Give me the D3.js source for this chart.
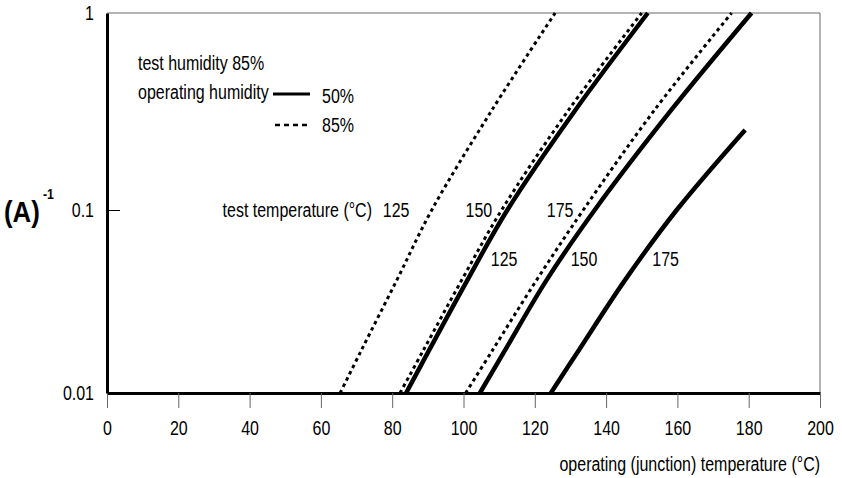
<!DOCTYPE html>
<html><head><meta charset="utf-8">
<script src="https://cdn.jsdelivr.net/npm/d3@7"></script>
<style>
body{margin:0;background:#fff}
text{fill:#000}
</style>
</head><body>
<svg id="c" width="842" height="478"></svg>
<script>
// ---- data ----
const xTicks = [0, 20, 40, 60, 80, 100, 120, 140, 160, 180, 200];
const yTicks = [0.01, 0.1, 1];
const yTickLabels = ["0.01", "0.1", "1"];
const testTemps = [125, 150, 175];
const opHumidity = ["50%", "85%"];

// A^-1 levels at which curves were read
const levels = [0.01, 0.0172, 0.0414, 0.1, 0.322, 1];
// operating humidity 85% (dashed) - operating temperature at each level
const dashed125 = [65.4, 71.4, 81.3, 91.1, 108.0, 125.7];
const dashed150 = [82.2, 88.8, 99.5, 110.7, 129.5, 150.0];
const dashed175 = [100.6, 108.2, 120.5, 133.6, 153.6, 175.2];
// operating humidity 50% (solid)
const solid125 = [83.9, 90.4, 101.1, 112.3, 131.4, 151.7];
const solid150 = [104.6, 111.7, 123.3, 136.8, 158.3, 180.8];
const solid175 = [124.5, 132.4, 145.3, 159.8, 179.0];
const solid175Levels = [0.01, 0.0172, 0.0414, 0.1, 0.255];

// ---- font: Arial metrics, condensed to look like Helvetica Narrow ----
const svg = d3.select("#c");
const FONT = "'Liberation Sans',Arial,sans-serif", FS = 19.5;
function narrowBy(s) {
  return sel => sel.each(function () {
    const el = d3.select(this);
    const x0 = +el.attr("x") || 0, y0 = +el.attr("y") || 0;
    el.attr("x", 0).attr("y", 0).attr("transform", `translate(${x0},${y0}) scale(${s},1)`);
  });
}
const narrow = narrowBy(0.82);
const txt = (sel) => sel.attr("font-family", FONT).attr("font-size", FS);

// ---- layout ----
const x = d3.scaleLinear().domain([0, 200]).range([107, 820]);
const y = d3.scaleLog().domain([0.01, 0.1, 1]).range([393, 210, 13]);

// frame (top/right thin)
svg.append("path")
  .attr("d", `M${x(0)},${y(1)}H${x(200)}V${y(0.01)}`)
  .attr("fill", "none").attr("stroke", "#666").attr("stroke-width", 1);

// x axis
const gx = svg.append("g").attr("transform", `translate(0,${y(0.01)})`)
  .call(d3.axisBottom(x).tickValues(xTicks).tickSizeInner(15).tickSizeOuter(0).tickPadding(13));
gx.select(".domain").attr("stroke", "#000").attr("stroke-width", 3);
gx.selectAll(".tick line").attr("stroke", "#666").attr("stroke-width", 1);
gx.selectAll(".tick text").call(txt).call(narrow);

// y axis
const gy = svg.append("g").attr("transform", `translate(${x(0)},0)`)
  .call(d3.axisLeft(y).tickValues(yTicks).tickFormat((d, i) => yTickLabels[i]).tickSizeInner(0).tickSizeOuter(0).tickPadding(13));
gy.select(".domain").attr("stroke", "#000").attr("stroke-width", 3);
gy.selectAll(".tick text").call(txt).call(narrow);
gy.selectAll(".tick").filter(d => d === 0.1).append("line")
  .attr("x1", 0).attr("x2", 13).attr("stroke", "#000").attr("stroke-width", 1);

// y label (A)^-1
svg.append("text").attr("x", 4).attr("y", 222)
  .attr("font-family", FONT).attr("font-size", 30).attr("font-weight", "bold")
  .text("(A)").call(narrowBy(0.86));
svg.append("text").attr("x", 43).attr("y", 199)
  .attr("font-family", FONT).attr("font-size", 15).attr("font-weight", "bold")
  .text("-1").call(narrow);

// x title
svg.append("text").attr("x", 820).attr("y", 471).attr("text-anchor", "end")
  .call(txt).text("operating (junction) temperature (°C)").call(narrow);

// curves
const line = d3.line().x(d => x(d[0])).y(d => y(d[1])).curve(d3.curveCatmullRom.alpha(0.5));
const series = [
  {t: dashed125, v: levels, dash: true},
  {t: dashed150, v: levels, dash: true},
  {t: dashed175, v: levels, dash: true},
  {t: solid125, v: levels, dash: false},
  {t: solid150, v: levels, dash: false},
  {t: solid175, v: solid175Levels, dash: false}
];
svg.append("g").selectAll("path").data(series).join("path")
  .attr("d", s => line(s.t.map((t, i) => [t, s.v[i]])))
  .attr("fill", "none").attr("stroke", "#000")
  .attr("stroke-width", s => s.dash ? 3 : 4.5)
  .attr("stroke-dasharray", s => s.dash ? "3.5,3.5" : null);

// curve labels (test temperature)
const dashedLabelT = [81.1, 104.3, 127.1];
const solidLabelT = [111.4, 133.8, 156.7];
svg.append("g").selectAll("text").data(testTemps).join("text")
  .attr("x", (d, i) => x(dashedLabelT[i])).attr("y", y(0.1) + 7)
  .attr("text-anchor", "middle").call(txt).text(d => d).call(narrow);
svg.append("g").selectAll("text").data(testTemps).join("text")
  .attr("x", (d, i) => x(solidLabelT[i])).attr("y", y(0.054) + 7)
  .attr("text-anchor", "middle").call(txt).text(d => d).call(narrow);
svg.append("text").attr("x", 372).attr("y", y(0.1) + 7).attr("text-anchor", "end")
  .call(txt).text("test temperature (°C)").call(narrow);

// legend
svg.append("text").attr("x", 138).attr("y", 70).call(txt).text("test humidity 85%").call(narrow);
svg.append("text").attr("x", 138).attr("y", 99).call(txt).text("operating humidity").call(narrow);
svg.append("line").attr("x1", 273).attr("x2", 310).attr("y1", 94).attr("y2", 94)
  .attr("stroke", "#000").attr("stroke-width", 3);
svg.append("line").attr("x1", 275).attr("x2", 310).attr("y1", 125).attr("y2", 125)
  .attr("stroke", "#000").attr("stroke-width", 2.5).attr("stroke-dasharray", "5,4");
svg.append("text").attr("x", 322).attr("y", 103).call(txt).text(opHumidity[0]).call(narrow);
svg.append("text").attr("x", 322).attr("y", 132).call(txt).text(opHumidity[1]).call(narrow);
</script>
</body></html>
